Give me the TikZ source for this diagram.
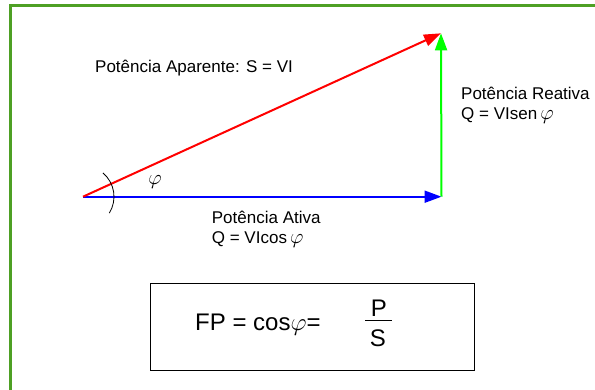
\documentclass[tikz,border=0pt]{standalone}
\usepackage{fontspec}
\setmainfont{Liberation Sans}
\usetikzlibrary{arrows.meta}
\definecolor{framegreen}{RGB}{78,160,36}
\begin{document}
\begin{tikzpicture}[x=1pt,y=1pt,
  lbl/.style={anchor=base west,inner sep=0pt,font=\fontsize{17}{20}\selectfont},
  vec/.style={line width=2pt,-{Triangle[length=17pt,width=12pt]}}]
\useasboundingbox (0,0) rectangle (595,389);
% frame
\draw[framegreen,line width=3pt] (10.7,-5) -- (10.7,383.7) -- (600,383.7);
% points
\coordinate (O) at (83,192.3);
\coordinate (A) at (441.5,192.3);
\coordinate (B) at (441,355.7);
% vectors
\draw[vec,blue] (O) -- (A);
\draw[vec,green] (A) -- (B);
\draw[vec,red] (O) -- (B);
% angle arc
\draw[line width=0.8pt] ([shift={(50:31)}]O) arc[start angle=50,end angle=-32,radius=31];
\node[font=\fontsize{20}{22}\selectfont,inner sep=0pt] (phi) at (155,207) {$\varphi$};
% labels
\node[lbl] (apar) at (95,316.3) {Potência Aparente: S = VI};
\node[lbl] (reat1) at (461,289.7) {Potência Reativa};
\node[lbl] (reat2) at (461,269.7) {Q = VIsen\hspace{3pt}{\fontsize{20}{22}\selectfont$\varphi$}};
\node[lbl] (ativ1) at (211.7,165) {Potência Ativa};
\node[lbl] (ativ2) at (211.7,145.7) {Q = VIcos\hspace{3pt}{\fontsize{20}{22}\selectfont$\varphi$}};
% formula box
\draw[line width=1pt] (150,19) rectangle (474,106);
\node[anchor=base west,inner sep=0pt,font=\fontsize{24}{28}\selectfont] (fp) at (195,59) {FP = cos$\varphi$=};
\node[anchor=base,inner sep=0pt,font=\fontsize{24}{28}\selectfont] (num) at (379,73) {P};
\draw[line width=1.3pt] (365,68.3) -- (392,68.3);
\node[anchor=base,inner sep=0pt,font=\fontsize{24}{28}\selectfont] (den) at (378,42.3) {S};
\end{tikzpicture}
\end{document}
